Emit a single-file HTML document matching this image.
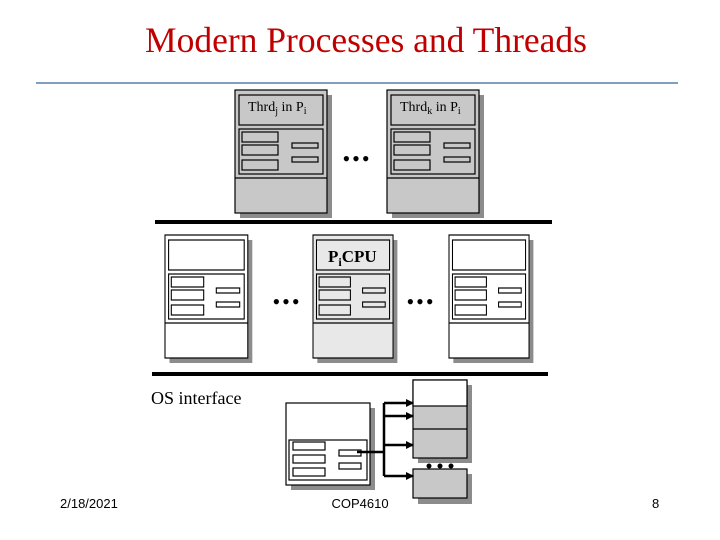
<!DOCTYPE html>
<html><head><style>body{margin:0;background:#fff}svg{display:block}</style></head><body>
<svg width="720" height="540" viewBox="0 0 720 540" xmlns="http://www.w3.org/2000/svg" font-family="Liberation Serif, serif">
<defs>
<g id="m">
<rect x="5" y="5" width="92" height="123" fill="#8c8c8c"/>
<rect x="0" y="0" width="92" height="123" fill="inherit" stroke="#000" stroke-width="1.2"/>
<rect x="4" y="5" width="84" height="30" fill="inherit" stroke="#000" stroke-width="1.2"/>
<rect x="4" y="39" width="84" height="45" fill="inherit" stroke="#000" stroke-width="1.2"/>
<line x1="0" y1="88" x2="92" y2="88" stroke="#000" stroke-width="1.2"/>
<g fill="none" stroke="#000" stroke-width="1.2">
<rect x="7" y="42" width="36" height="10"/><rect x="7" y="55" width="36" height="10"/><rect x="7" y="70" width="36" height="10"/>
<rect x="57" y="53" width="26" height="5"/><rect x="57" y="67" width="26" height="5"/></g>
</g>
<marker id="a" markerWidth="8" markerHeight="8" refX="7" refY="4" orient="auto" markerUnits="userSpaceOnUse"><path d="M0,0L8,4L0,8z" fill="#000"/></marker>
</defs>
<text x="366" y="52" font-size="35.5" fill="#c00000" text-anchor="middle">Modern Processes and Threads</text>
<line x1="36" y1="83" x2="678" y2="83" stroke="#7f9fbf" stroke-width="2"/>

<use href="#m" x="235" y="90" fill="#c8c8c8"/>
<use href="#m" x="387" y="90" fill="#c8c8c8"/>
<text x="248" y="111" font-size="14">Thrd<tspan font-size="10" dy="3">j</tspan><tspan dy="-3"> in P</tspan><tspan font-size="10" dy="3">i</tspan></text>
<text x="400" y="111" font-size="14">Thrd<tspan font-size="10" dy="3">k</tspan><tspan dy="-3"> in P</tspan><tspan font-size="10" dy="3">i</tspan></text>
<text x="357" y="166" font-size="22" text-anchor="middle" letter-spacing="2">•••</text>
<rect x="155" y="220" width="397" height="4" fill="#000"/>

<g transform="translate(165,235) scale(0.9,1)"><use href="#m" fill="#fff"/></g>
<g transform="translate(313,235) scale(0.87,1)"><use href="#m" fill="#e8e8e8"/></g>
<g transform="translate(449,235) scale(0.87,1)"><use href="#m" fill="#fff"/></g>
<text x="328" y="262" font-size="17" font-weight="bold">P<tspan font-size="12" dy="4">i</tspan><tspan dy="-4">CPU</tspan></text>
<text x="287" y="309" font-size="22" text-anchor="middle" letter-spacing="2">•••</text>
<text x="421" y="309" font-size="22" text-anchor="middle" letter-spacing="2">•••</text>
<rect x="152" y="372" width="396" height="4" fill="#000"/>
<text x="151" y="404" font-size="18">OS interface</text>

<g stroke="#000" stroke-width="1.2">
<rect x="291" y="408" width="84" height="82" fill="#8c8c8c" stroke="none"/>
<rect x="286" y="403" width="84" height="82" fill="#fff"/>
<rect x="289" y="440" width="78" height="40" fill="#fff"/>
<g fill="none"><rect x="293" y="442" width="32" height="8"/><rect x="293" y="455" width="32" height="8"/><rect x="293" y="468" width="32" height="8"/><rect x="339" y="450" width="22" height="6"/><rect x="339" y="463" width="22" height="6"/></g>
<rect x="418" y="385" width="54" height="78" fill="#8c8c8c" stroke="none"/>
<rect x="413" y="380" width="54" height="78" fill="#c8c8c8"/>
<rect x="413" y="380" width="54" height="26" fill="#fff"/>
<line x1="413" y1="429" x2="467" y2="429"/>
<rect x="418" y="474" width="54" height="30" fill="#8c8c8c" stroke="none"/>
<rect x="413" y="469" width="54" height="29" fill="#c8c8c8"/>
</g>
<g stroke="#000" stroke-width="2.5" fill="none">
<polyline points="357,452 384,452"/>
<line x1="384" y1="403" x2="384" y2="476"/>
<line x1="384" y1="403" x2="413" y2="403" marker-end="url(#a)"/>
<line x1="384" y1="416" x2="413" y2="416" marker-end="url(#a)"/>
<line x1="384" y1="445" x2="413" y2="445" marker-end="url(#a)"/>
<line x1="384" y1="476" x2="413" y2="476" marker-end="url(#a)"/>
</g>
<g fill="#000"><circle cx="429" cy="466" r="2.5"/><circle cx="440" cy="466" r="2.5"/><circle cx="451" cy="466" r="2.5"/></g>

<g font-family="Liberation Sans, sans-serif" font-size="13">
<text x="60" y="508">2/18/2021</text>
<text x="360" y="508" text-anchor="middle">COP4610</text>
<text x="652" y="508">8</text>
</g>
</svg>
</body></html>
